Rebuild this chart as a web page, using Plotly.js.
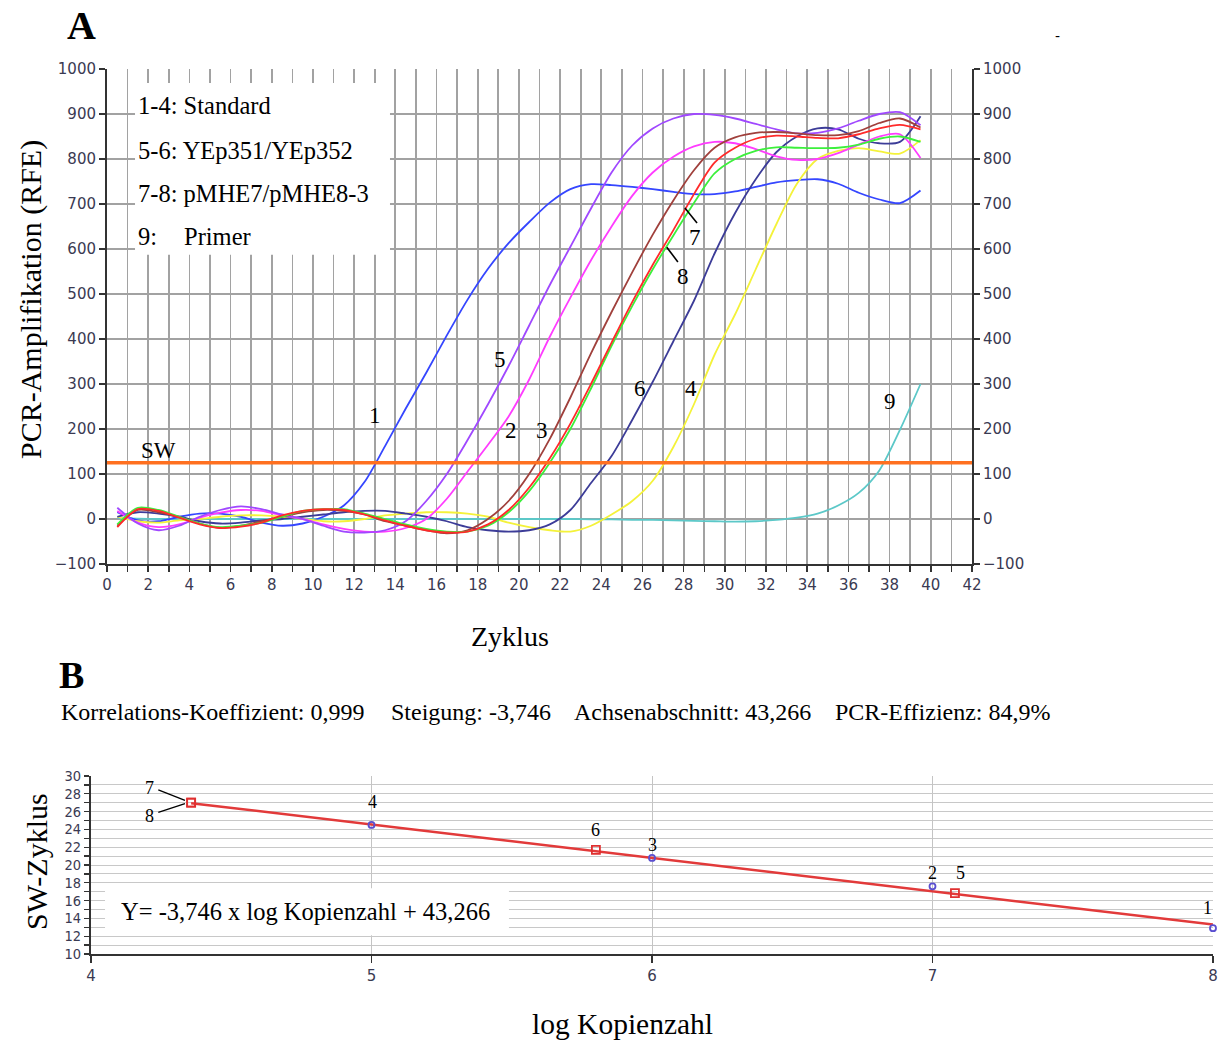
<!DOCTYPE html>
<html>
<head>
<meta charset="utf-8">
<script src="https://cdn.plot.ly/plotly-3.0.1.min.js"></script>
<style>html,body{margin:0;padding:0;background:#fff;}#chart{width:1223px;height:1042px;}</style>
</head>
<body>
<div id="chart"></div>
<script>
// ---------- Panel A data: amplification curves (RFE per cycle) ----------
const cycles = [0.5,1.5,2.5,3.5,4.5,5.5,6.5,7.5,8.5,9.5,10.5,11.5,12.5,13.5,14.5,15.5,16.5,17.5,18.5,19.5,
                20.5,21.5,22.5,23.5,24.5,25.5,26.5,27.5,28.5,29.5,30.5,31.5,32.5,33.5,34.5,35.5,36.5,37.5,38.5,39.5];

const curve1 = [15,-3,-5,5,12,12,5,-8,-15,-10,5,30,82,162,245,325,408,487,556,613,
                660,703,733,744,742,738,733,727,722,722,728,738,748,753,755,745,725,710,702,730];
const curve2 = [18,-8,-18,-12,3,14,20,18,8,0,-12,-22,-28,-28,-20,0,45,105,165,228,
                310,405,492,575,650,718,770,805,828,838,835,822,806,798,800,813,832,850,855,802];
const curve3 = [-15,20,15,5,-10,-20,-15,-5,5,15,20,18,10,-5,-15,-25,-32,-25,0,40,
                100,178,270,368,460,548,632,708,775,825,848,858,860,857,853,853,862,880,890,870];
const curve4 = [5,-5,-8,-3,0,5,8,8,5,0,-5,-5,0,8,12,15,15,12,5,-8,
                -18,-25,-28,-15,10,40,85,160,255,365,455,555,655,745,800,818,824,817,812,842];
const curve5 = [25,-10,-25,-15,5,20,28,22,10,0,-15,-28,-30,-25,-5,40,100,175,255,340,
                430,520,605,690,770,830,868,890,900,898,890,878,866,857,858,868,885,900,904,875];
const curve6 = [5,15,12,5,-5,-10,-8,-3,0,5,10,15,18,18,12,5,-5,-18,-25,-28,
                -25,-12,20,80,140,220,305,395,485,590,680,755,815,850,868,866,845,835,838,895];
const curve7 = [-18,22,18,3,-12,-20,-17,-8,8,18,22,20,10,-3,-15,-25,-30,-28,-12,20,
                70,135,212,300,392,482,565,642,722,792,825,845,852,850,847,846,855,868,876,866];
const curve8 = [-12,25,20,5,-10,-18,-15,-8,5,18,22,22,12,0,-12,-22,-28,-28,-15,15,
                62,125,200,290,385,473,555,630,702,768,800,818,826,825,824,825,832,845,850,838];
const curve9 = [2,1,0,0,0,0,0,0,0,0,0,0,0,0,0,0,0,0,0,0,
                0,0,0,-1,-1,-2,-2,-3,-4,-5,-6,-5,-2,3,12,30,58,108,198,300];

const curveNames  = ["1","2","3","4","5","6","7","8","9"];
const curveColors = ["#3546ff","#ff3cff","#a0403c","#f4f23a","#a048ff","#3c3c98","#ff2a2a","#3cf03c","#5cc8c8"];

// threshold line (SW)
const swX = [0, 42];
const swY = [125, 125];

// ---------- Panel B data: standard curve ----------
const stdLog = [8, 7, 6, 5];          // standards 1-4
const stdCq  = [12.9, 17.6, 20.8, 24.5];
const smpLog = [7.08, 5.80, 4.357, 4.357]; // samples 5-8
const smpCq  = [16.85, 21.7, 27.0, 27.0];
const fitX = [4.357, 8];
const fitY = [26.95, 13.3];

// ---------- helpers ----------
const W = 1223, H = 1042;
const px = x => x / W;
const py = y => 1 - y / H;

const curves = [curve1,curve2,curve3,curve4,curve5,curve6,curve7,curve8,curve9];
const drawOrder = [8,0,3,5,1,4,2,7,6];
const traces = [];
drawOrder.forEach(i => {
  traces.push({
    x: cycles, y: curves[i], type: 'scatter', mode: 'lines', name: curveNames[i],
    line: {color: curveColors[i], width: 1.8, shape: 'spline', smoothing: 0.8},
    xaxis: 'x', yaxis: 'y', hoverinfo: 'skip'
  });
});
traces.push({x: swX, y: swY, type: 'scatter', mode: 'lines', line: {color: '#ff7020', width: 3.5},
  xaxis: 'x', yaxis: 'y2', hoverinfo: 'skip'});

traces.push({x: fitX, y: fitY, type: 'scatter', mode: 'lines', line: {color: '#e23a3a', width: 2.5},
  xaxis: 'x2', yaxis: 'y3', hoverinfo: 'skip'});
traces.push({x: stdLog, y: stdCq, type: 'scatter', mode: 'markers', cliponaxis: false,
  marker: {symbol: 'circle-open', size: 6, color: '#5a4fd0', line: {width: 1.8, color: '#5a4fd0'}},
  xaxis: 'x2', yaxis: 'y3', hoverinfo: 'skip'});
traces.push({x: smpLog, y: smpCq, type: 'scatter', mode: 'markers', cliponaxis: false,
  marker: {symbol: 'square-open', size: 8, color: '#e03030', line: {width: 1.8, color: '#e03030'}},
  xaxis: 'x2', yaxis: 'y3', hoverinfo: 'skip'});

const tickFont = {family: 'DejaVu Sans', size: 15, color: '#3a3a52'};
const serif = 'Liberation Serif, Times New Roman, serif';
const gridA = '#a2a2a2';

const ann = [];
function txt(text, x, y, size, opts) {
  ann.push(Object.assign({text: text, x: px(x), y: py(y), xref: 'paper', yref: 'paper',
    showarrow: false, xanchor: 'left', yanchor: 'middle', borderpad: 0,
    font: {family: serif, size: size, color: '#000'}}, opts || {}));
}
function dtxt(text, x, y, size, xr, yr) {
  ann.push({text: text, x: x, y: y, xref: xr, yref: yr, showarrow: false, borderpad: 0,
    xanchor: 'center', yanchor: 'middle', font: {family: serif, size: size, color: '#000'}});
}

txt('<b>A</b>', 66, 25, 40);
txt('<b>B</b>', 58, 675, 38);
txt('-', 1054, 36, 16, {font: {family: 'DejaVu Sans', size: 14, color: '#000'}});

txt('1-4: Standard', 137, 105, 24.5);
txt('5-6: YEp351/YEp352', 137, 150, 24.5);
txt('7-8: pMHE7/pMHE8-3', 137, 193, 24.5);
txt('9:', 137, 237, 24.5);
txt('Primer', 183, 237, 24.5);

txt('PCR-Amplifikation (RFE)', 31, 300, 30, {xanchor: 'center', textangle: -90});
txt('Zyklus', 510, 636, 28, {xanchor: 'center'});

txt('Korrelations-Koeffizient: 0,999', 60, 712, 24);
txt('Steigung: -3,746', 390, 712, 24);
txt('Achsenabschnitt: 43,266', 573, 712, 24);
txt('PCR-Effizienz: 84,9%', 834, 712, 24);

txt('SW-Zyklus', 36, 862, 30, {xanchor: 'center', textangle: -90});
txt('log Kopienzahl', 622, 1024, 29.5, {xanchor: 'center'});
txt('Y= -3,746 x log Kopienzahl + 43,266', 120, 911, 24.5);

// curve labels panel A
dtxt('SW', 2.5, 153, 23, 'x', 'y');
dtxt('1', 13.0, 231, 23, 'x', 'y');
dtxt('5', 19.1, 355, 23, 'x', 'y');
dtxt('2', 19.6, 196, 23, 'x', 'y');
dtxt('3', 21.1, 196, 23, 'x', 'y');
dtxt('6', 25.9, 291, 23, 'x', 'y');
dtxt('4', 28.35, 291, 23, 'x', 'y');
dtxt('9', 38.0, 260, 23, 'x', 'y');
dtxt('7', 28.55, 625, 23, 'x', 'y');
dtxt('8', 27.95, 538, 23, 'x', 'y');

// point labels panel B
dtxt('7', 4.21, 28.6, 18, 'x2', 'y3');
dtxt('8', 4.21, 25.5, 18, 'x2', 'y3');
dtxt('4', 5.005, 27.1, 18, 'x2', 'y3');
dtxt('6', 5.80, 23.9, 18, 'x2', 'y3');
dtxt('3', 6.0, 22.2, 18, 'x2', 'y3');
dtxt('2', 7.0, 19.1, 18, 'x2', 'y3');
dtxt('5', 7.1, 19.1, 18, 'x2', 'y3');
dtxt('1', 7.98, 15.2, 18, 'x2', 'y3');

const shapes = [
  // legend box panel A
  {type: 'rect', xref: 'x', yref: 'y', x0: 1.36, x1: 13.74, y0: 587, y1: 969,
   fillcolor: '#ffffff', line: {width: 0}, layer: 'above'},
  // pointer lines 7 / 8 (panel A)
  {type: 'line', xref: 'x', yref: 'y', x0: 28.06, y0: 691, x1: 28.65, y1: 658, line: {color: '#000', width: 1.6}},
  {type: 'line', xref: 'x', yref: 'y', x0: 27.18, y0: 604, x1: 27.72, y1: 571, line: {color: '#000', width: 1.6}},
  // equation box panel B
  {type: 'rect', xref: 'x2', yref: 'y3', x0: 4.05, x1: 5.49, y0: 12.1, y1: 17.4,
   fillcolor: '#ffffff', line: {width: 0}, layer: 'above'},
  // pointer lines 7 / 8 (panel B)
  {type: 'line', xref: 'x2', yref: 'y3', x0: 4.24, y0: 28.45, x1: 4.335, y1: 27.25, line: {color: '#000', width: 1.3}},
  {type: 'line', xref: 'x2', yref: 'y3', x0: 4.24, y0: 25.9, x1: 4.335, y1: 26.9, line: {color: '#000', width: 1.3}}
];

const layout = {
  width: W, height: H, margin: {l: 0, r: 0, t: 0, b: 0},
  paper_bgcolor: '#fff', plot_bgcolor: '#fff', showlegend: false,
  font: {family: 'DejaVu Sans'},
  xaxis: {domain: [px(107), px(972)], anchor: 'y', range: [0, 42], tick0: 0, dtick: 2,
    ticks: 'outside', ticklen: 6, tickwidth: 1.5, tickcolor: '#333',
    showline: true, linecolor: '#333', linewidth: 2, showgrid: true, gridcolor: gridA, gridwidth: 1.7,
    minor: {dtick: 1, ticks: 'outside', ticklen: 6, tickwidth: 1.5, tickcolor: '#333', showgrid: true, gridcolor: gridA, gridwidth: 1.7},
    zeroline: false, tickfont: tickFont},
  yaxis: {domain: [py(564), py(69)], anchor: 'x', range: [-100, 1000], dtick: 100,
    ticks: 'outside', ticklen: 6, tickwidth: 1.5, tickcolor: '#333',
    showline: true, linecolor: '#333', linewidth: 2, showgrid: true, gridcolor: gridA, gridwidth: 1.7,
    zeroline: false, tickfont: tickFont},
  yaxis2: {overlaying: 'y', side: 'right', anchor: 'x', range: [-100, 1000], dtick: 100,
    ticks: 'outside', ticklen: 6, tickwidth: 1.5, tickcolor: '#333',
    showline: true, linecolor: '#333', linewidth: 2, showgrid: false, zeroline: false, tickfont: tickFont},
  xaxis2: {domain: [px(91), px(1213)], anchor: 'y3', range: [4, 8], dtick: 1,
    ticks: 'outside', ticklen: 7, tickwidth: 1.5, tickcolor: '#333',
    showline: true, linecolor: '#333', linewidth: 2, showgrid: true, gridcolor: '#c4c4c4', gridwidth: 1,
    zeroline: false, tickfont: tickFont},
  yaxis3: {domain: [py(954), py(776)], anchor: 'x2', range: [10, 30], dtick: 2,
    ticks: 'outside', ticklen: 5, tickwidth: 1.3, tickcolor: '#333',
    showline: true, linecolor: '#333', linewidth: 2, showgrid: true, gridcolor: '#c8c8c8', gridwidth: 1,
    minor: {dtick: 1, ticks: 'outside', ticklen: 5, tickwidth: 1.3, tickcolor: '#333', showgrid: true, gridcolor: '#c8c8c8', gridwidth: 1},
    zeroline: false, tickfont: {family: 'DejaVu Sans Condensed, DejaVu Sans', size: 14.5, color: '#3a3a52'}},
  annotations: ann,
  shapes: shapes
};

Plotly.newPlot('chart', traces, layout, {staticPlot: true, displayModeBar: false});
</script>
</body>
</html>
